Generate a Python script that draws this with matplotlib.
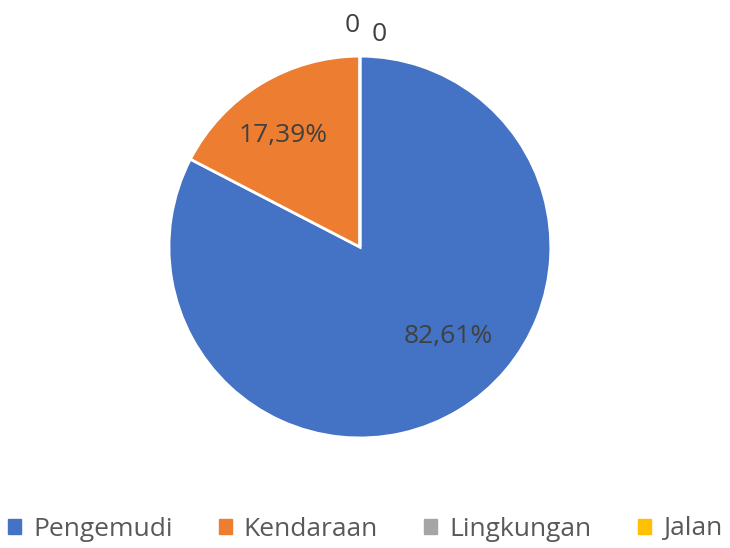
import matplotlib
matplotlib.use("Agg")
import matplotlib.pyplot as plt
import numpy as np

categories = ["Pengemudi", "Kendaraan", "Lingkungan", "Jalan"]
values = [82.61, 17.39, 0, 0]
labels = ["82,61%", "17,39%", "0", "0"]
colors = ["#4472C4", "#ED7D31", "#A5A5A5", "#FFC000"]

plt.rcParams['font.family'] = ['Open Sans', 'DejaVu Sans']

fig = plt.figure(figsize=(7.3, 5.48), dpi=100)
L = 1.3
ax = fig.add_axes([0.153, 0.0962, 0.680, 0.906])
wedges, _ = ax.pie(values, colors=colors, startangle=90, counterclock=False,
                   wedgeprops=dict(edgecolor="white", linewidth=2), radius=1.0)
ax.set_xlim(-L, L)
ax.set_ylim(-L, L)
ax.set_aspect('equal')
ax.axis('off')

# label positions (data units)
pos = [(0.461, -0.466), (-0.403, 0.586), (-0.04, 1.16), (0.10, 1.115)]
for (x, y), t in zip(pos, labels):
    ax.text(x, y, t, ha='center', va='center', fontsize=19, color='#404040')

handles = [plt.Rectangle((0, 0), 1, 1, color=c) for c in colors]
fig.legend(handles, categories, loc='center', bbox_to_anchor=(0.5, 1 - 529/548),
           ncol=4, frameon=False, fontsize=19, handlelength=0.5, handleheight=0.5,
           handletextpad=0.45, columnspacing=1.75, labelcolor='#595959',
           borderpad=0, borderaxespad=0)

fig.savefig("out.png", dpi=100)
